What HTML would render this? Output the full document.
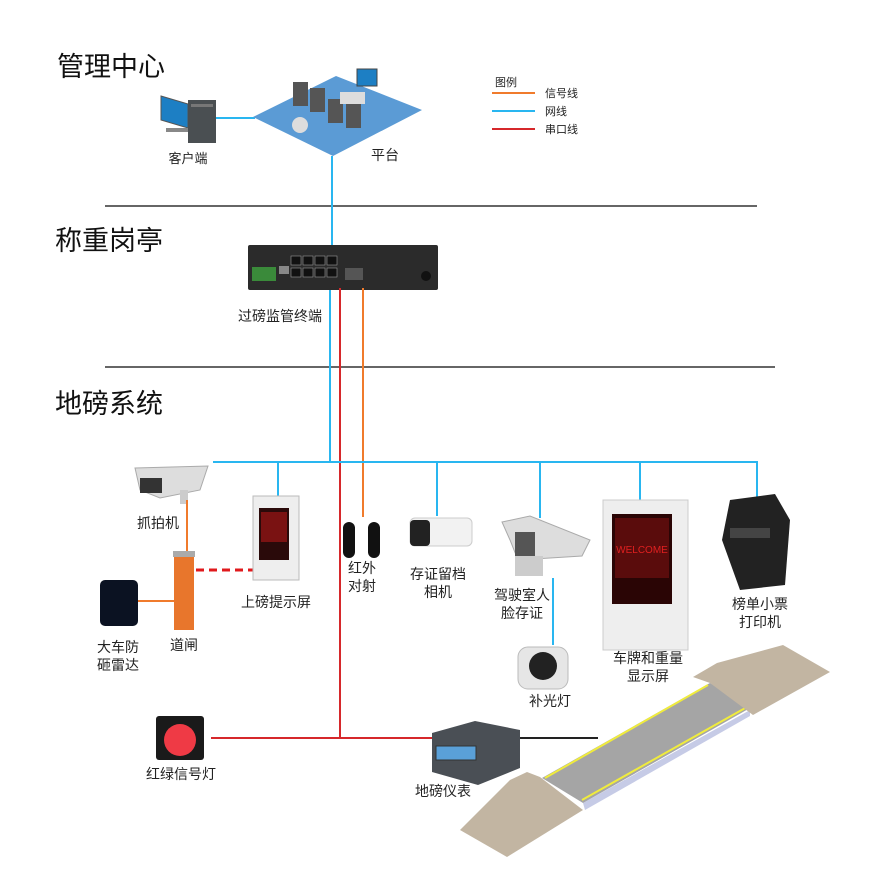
<!DOCTYPE html>
<html><head><meta charset="utf-8"><style>
html,body{margin:0;padding:0;background:#fff;}
svg{display:block;font-family:"Liberation Sans","Noto Sans CJK SC",sans-serif;}
</style></head><body>
<svg width="892" height="893" viewBox="0 0 892 893" xmlns="http://www.w3.org/2000/svg">
<rect width="892" height="893" fill="#fff"/>
<!-- titles -->
<text x="57" y="76" font-size="27" fill="#111">管理中心</text>
<text x="55" y="250" font-size="27" fill="#111">称重岗亭</text>
<text x="55" y="413" font-size="27" fill="#111">地磅系统</text>
<line x1="105" y1="206" x2="757" y2="206" stroke="#333" stroke-width="1.5"/>
<line x1="105" y1="367" x2="775" y2="367" stroke="#333" stroke-width="1.5"/>
<!-- legend -->
<text x="495" y="86" font-size="11" fill="#222">图例</text>
<line x1="492" y1="93" x2="535" y2="93" stroke="#f07b2c" stroke-width="2"/>
<text x="545" y="97" font-size="11" fill="#222">信号线</text>
<line x1="492" y1="111" x2="535" y2="111" stroke="#29b6f0" stroke-width="2"/>
<text x="545" y="115" font-size="11" fill="#222">网线</text>
<line x1="492" y1="129" x2="535" y2="129" stroke="#d6282b" stroke-width="2"/>
<text x="545" y="133" font-size="11" fill="#222">串口线</text>
<!-- client -->
<line x1="216" y1="118" x2="255" y2="118" stroke="#29b6f0" stroke-width="2"/>
<polygon points="161,96 188,104 188,128 161,120" fill="#1d7fc4" stroke="#555"/>
<rect x="166" y="128" width="22" height="4" fill="#888"/>
<rect x="188" y="100" width="28" height="43" fill="#4a4f52"/>
<rect x="191" y="104" width="22" height="3" fill="#777"/>
<text x="188" y="163" font-size="13" text-anchor="middle" fill="#222">客户端</text>
<!-- platform -->
<polygon points="253,117 336,76 422,110 333,156" fill="#5b9bd5"/>
<rect x="293" y="82" width="15" height="24" fill="#555"/><rect x="310" y="88" width="15" height="24" fill="#555"/>
<rect x="328" y="99" width="15" height="24" fill="#555"/><rect x="346" y="104" width="15" height="24" fill="#555"/>
<rect x="340" y="92" width="25" height="12" fill="#ddd"/>
<rect x="357" y="69" width="20" height="17" fill="#1d7fc4" stroke="#444"/>
<ellipse cx="300" cy="125" rx="8" ry="8" fill="#ddd"/>
<text x="385" y="160" font-size="14" text-anchor="middle" fill="#222">平台</text>
<line x1="332" y1="156" x2="332" y2="246" stroke="#29b6f0" stroke-width="2"/>
<!-- terminal -->
<rect x="248" y="245" width="190" height="45" fill="#2b2b2b" rx="2"/>
<rect x="252" y="267" width="24" height="14" fill="#3a8a3a"/>
<rect x="279" y="266" width="10" height="8" fill="#888"/>
<g fill="#111" stroke="#999" stroke-width="0.6">
<rect x="291" y="256" width="10" height="9"/><rect x="303" y="256" width="10" height="9"/><rect x="315" y="256" width="10" height="9"/><rect x="327" y="256" width="10" height="9"/>
<rect x="291" y="268" width="10" height="9"/><rect x="303" y="268" width="10" height="9"/><rect x="315" y="268" width="10" height="9"/><rect x="327" y="268" width="10" height="9"/>
</g>
<rect x="345" y="268" width="18" height="12" fill="#555"/>
<circle cx="426" cy="276" r="5" fill="#111"/>
<text x="280" y="321" font-size="14" text-anchor="middle" fill="#222">过磅监管终端</text>
<line x1="330" y1="290" x2="330" y2="462" stroke="#29b6f0" stroke-width="2"/>
<line x1="340" y1="288" x2="340" y2="738" stroke="#d6282b" stroke-width="2"/>
<line x1="363" y1="288" x2="363" y2="517" stroke="#f07b2c" stroke-width="2"/>
<!-- blue bus -->
<line x1="213" y1="462" x2="758" y2="462" stroke="#29b6f0" stroke-width="2"/>
<g stroke="#29b6f0" stroke-width="2">
<line x1="278" y1="462" x2="278" y2="497"/>
<line x1="437" y1="462" x2="437" y2="516"/>
<line x1="540" y1="462" x2="540" y2="518"/>
<line x1="640" y1="462" x2="640" y2="500"/>
<line x1="757" y1="462" x2="757" y2="500"/>
<line x1="553" y1="578" x2="553" y2="645"/>
</g>
<!-- capture camera -->
<polygon points="135,468 208,466 200,490 160,498 140,490" fill="#ddd" stroke="#aaa"/>
<rect x="140" y="478" width="22" height="15" fill="#333"/>
<rect x="180" y="490" width="8" height="14" fill="#ccc"/>
<text x="158" y="528" font-size="14" text-anchor="middle" fill="#222">抓拍机</text>
<line x1="187" y1="500" x2="187" y2="553" stroke="#f07b2c" stroke-width="2"/>
<!-- barrier -->
<rect x="173" y="551" width="22" height="6" fill="#aaa"/>
<rect x="174" y="557" width="20" height="73" fill="#e8762c"/>
<text x="184" y="650" font-size="14" text-anchor="middle" fill="#222">道闸</text>
<line x1="196" y1="570" x2="256" y2="570" stroke="#e0191c" stroke-width="3" stroke-dasharray="8,5"/>
<!-- radar -->
<line x1="138" y1="601" x2="174" y2="601" stroke="#f07b2c" stroke-width="2"/>
<rect x="100" y="580" width="38" height="46" rx="5" fill="#0b1222"/>
<text x="118" y="652" font-size="14" text-anchor="middle" fill="#222">大车防</text>
<text x="118" y="670" font-size="14" text-anchor="middle" fill="#222">砸雷达</text>
<!-- tip screen -->
<rect x="253" y="496" width="46" height="84" fill="#eee" stroke="#bbb"/>
<rect x="259" y="508" width="30" height="52" fill="#2a0a0a"/>
<rect x="261" y="512" width="26" height="30" fill="#7a1212"/>
<text x="276" y="607" font-size="14" text-anchor="middle" fill="#222">上磅提示屏</text>
<!-- infrared -->
<rect x="343" y="522" width="12" height="36" rx="6" fill="#111"/>
<rect x="368" y="522" width="12" height="36" rx="6" fill="#111"/>
<text x="362" y="573" font-size="14" text-anchor="middle" fill="#222">红外</text>
<text x="362" y="591" font-size="14" text-anchor="middle" fill="#222">对射</text>
<!-- evidence camera -->
<rect x="410" y="518" width="62" height="28" rx="5" fill="#f2f2f2" stroke="#ccc"/>
<rect x="410" y="520" width="20" height="26" rx="4" fill="#222"/>
<text x="438" y="579" font-size="14" text-anchor="middle" fill="#222">存证留档</text>
<text x="438" y="597" font-size="14" text-anchor="middle" fill="#222">相机</text>
<!-- driver camera -->
<polygon points="502,522 530,516 590,540 582,556 518,560 510,540" fill="#ddd" stroke="#aaa"/>
<rect x="515" y="532" width="20" height="24" fill="#555"/>
<rect x="515" y="556" width="28" height="20" fill="#ccc"/>
<text x="522" y="600" font-size="14" text-anchor="middle" fill="#222">驾驶室人</text>
<text x="522" y="618" font-size="14" text-anchor="middle" fill="#222">脸存证</text>
<!-- fill light -->
<rect x="518" y="647" width="50" height="42" rx="10" fill="#e6e6e6" stroke="#bbb"/>
<circle cx="543" cy="666" r="14" fill="#222"/>
<text x="550" y="706" font-size="14" text-anchor="middle" fill="#222">补光灯</text>
<!-- display -->
<rect x="603" y="500" width="85" height="150" fill="#eee" stroke="#ccc"/>
<rect x="612" y="514" width="60" height="90" fill="#2a0505"/>
<rect x="615" y="518" width="54" height="60" fill="#5a0c0c"/>
<text x="642" y="553" font-size="10" text-anchor="middle" fill="#e02020">WELCOME</text>
<text x="648" y="663" font-size="14" text-anchor="middle" fill="#222">车牌和重量</text>
<text x="648" y="681" font-size="14" text-anchor="middle" fill="#222">显示屏</text>
<!-- printer -->
<polygon points="730,500 775,494 790,520 785,585 740,590 722,540" fill="#222"/>
<rect x="730" y="528" width="40" height="10" fill="#444"/>
<text x="760" y="609" font-size="14" text-anchor="middle" fill="#222">榜单小票</text>
<text x="760" y="627" font-size="14" text-anchor="middle" fill="#222">打印机</text>
<!-- traffic light -->
<line x1="211" y1="738" x2="432" y2="738" stroke="#d6282b" stroke-width="2"/>
<rect x="156" y="716" width="48" height="44" rx="3" fill="#1a1a1a"/>
<circle cx="180" cy="740" r="16" fill="#ef3a45"/>
<text x="181" y="779" font-size="14" text-anchor="middle" fill="#222">红绿信号灯</text>
<!-- weighbridge -->
<polygon points="583,803 750,710 750,716 585,810" fill="#c6cbe6"/>
<polygon points="542,778 710,683 750,708 583,803" fill="#a5a5a5"/>
<line x1="545" y1="778" x2="708" y2="685" stroke="#f0ec3c" stroke-width="2"/>
<line x1="582" y1="800" x2="747" y2="707" stroke="#f0ec3c" stroke-width="2"/>
<polygon points="460,830 507,857 583,810 540,777 527,772 510,780 482,808" fill="#c2b5a2"/>
<polygon points="693,677 717,663 783,645 830,672 753,715 710,683" fill="#c2b5a2"/>
<!-- meter -->
<line x1="520" y1="738" x2="598" y2="738" stroke="#222" stroke-width="2"/>
<polygon points="432,733 475,721 520,730 520,768 478,785 432,772" fill="#4a4f55"/>
<rect x="436" y="746" width="40" height="14" fill="#5aa0d8" stroke="#333"/>
<text x="443" y="796" font-size="14" text-anchor="middle" fill="#222">地磅仪表</text>
</svg>
</body></html>
